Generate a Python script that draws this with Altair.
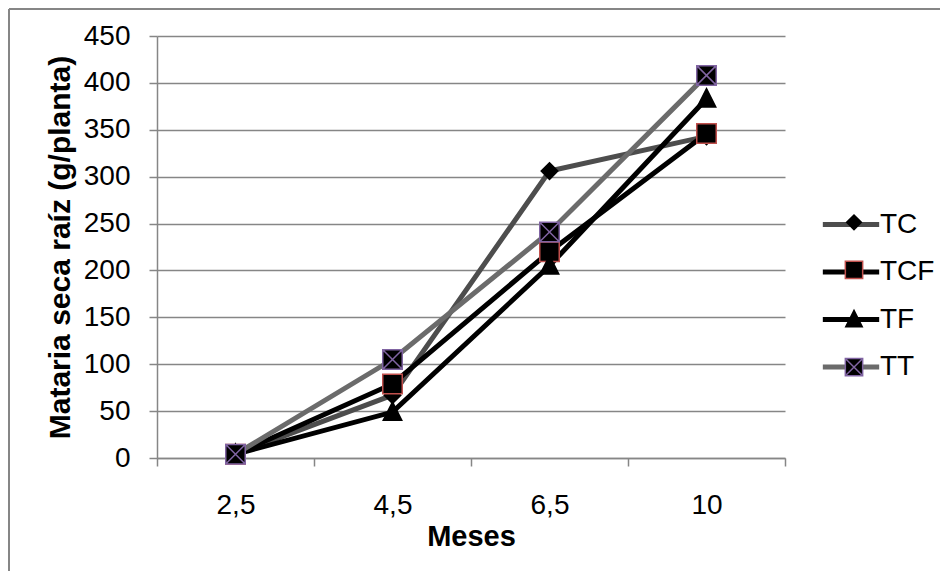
import altair as alt
import pandas as pd

# ---- data ----
months = ["2,5", "4,5", "6,5", "10"]
series = ["TC", "TCF", "TF", "TT"]
tc = [4, 67, 306, 343]
tcf = [4, 79, 220, 346]
tf = [4, 49, 205, 383]
tt = [4, 105, 241, 408]
y_ticks = [0, 50, 100, 150, 200, 250, 300, 350, 400, 450]

# ---- styles ----
line_colors = ["#4d4d4d", "#000000", "#000000", "#6b6b6b"]
marker_fill = ["#000000", "#000000", "#000000", "#000000"]
marker_stroke = ["#000000", "#c0504d", "#000000", "#8064a2"]
marker_shapes = [
    "M-0.85,0L0,-0.85L0.85,0L0,0.85Z",
    "square",
    "M0,-1.05L0.95,0.85L-0.95,0.85Z",
    "M-1,-1H1V1H-1Z M-1,-1L1,1 M1,-1L-1,1",
]
FONT = "Liberation Sans"
GRID = "#868686"

rows = []
for s, vals in zip(series, [tc, tcf, tf, tt]):
    for m, v in zip(months, vals):
        rows.append({"Mes": m, "Serie": s, "SerieM": s, "Valor": v})
df = pd.DataFrame(rows)

x_enc = alt.X(
    "Mes:N",
    sort=months,
    scale=alt.Scale(type="band", paddingInner=0, paddingOuter=0),
    axis=alt.Axis(
        title="Meses",
        labelAngle=0,
        tickBand="extent",
        tickSize=8,
        tickColor=GRID,
        tickWidth=1.5,
        domainColor=GRID,
        domainWidth=1.5,
        grid=False,
        labelFontSize=28,
        labelColor="black",
        labelPadding=25,
        titleFontSize=29,
        titleFontWeight="bold",
        titleColor="black",
        titlePadding=3,
    ),
)
y_enc = alt.Y(
    "Valor:Q",
    scale=alt.Scale(domain=[0, 450], nice=False),
    axis=alt.Axis(
        title="Mataria seca raíz (g/planta)",
        values=y_ticks,
        tickSize=8,
        tickColor=GRID,
        tickWidth=1.5,
        domainColor=GRID,
        domainWidth=1.5,
        gridColor=GRID,
        gridWidth=1.5,
        labelFontSize=28,
        labelColor="black",
        labelPadding=19,
        titleFontSize=30,
        titleFontWeight="bold",
        titleColor="black",
        titlePadding=8,
    ),
)

base = alt.Chart(df)

leg_lines = alt.Legend(
    title=None,
    orient="none",
    legendX=667,
    legendY=161.5,
    symbolType="M-1.15,0H1.15",
    symbolSize=2401,
    symbolStrokeWidth=5,
    rowPadding=6.5,
    labelFontSize=28,
    labelColor="black",
    labelOffset=2,
    padding=0,
)
lines = base.mark_line(strokeWidth=5).encode(
    x=x_enc,
    y=y_enc,
    color=alt.Color("Serie:N", sort=series,
                    scale=alt.Scale(domain=series, range=line_colors),
                    legend=leg_lines),
)

leg_marks = alt.Legend(
    title=None,
    orient="none",
    legendX=687.5,
    legendY=176.8,
    symbolSize=300,
    symbolStrokeWidth=1.5,
    rowPadding=24.6,
    labelFontSize=1,
    labelOpacity=0,
    padding=0,
)
points = base.mark_point(filled=True, size=380, opacity=1, strokeWidth=1.5).encode(
    x=x_enc,
    y=y_enc,
    shape=alt.Shape("SerieM:N", sort=series,
                    scale=alt.Scale(domain=series, range=marker_shapes),
                    legend=leg_marks),
    fill=alt.Fill("SerieM:N", sort=series,
                  scale=alt.Scale(domain=series, range=marker_fill),
                  legend=leg_marks),
    stroke=alt.Stroke("SerieM:N", sort=series,
                      scale=alt.Scale(domain=series, range=marker_stroke),
                      legend=leg_marks),
)

# decorative chart-area frame (left and top edges)
frame_df = pd.DataFrame({"k": [0]})
frame_left = alt.Chart(frame_df).mark_rule(color=GRID, strokeWidth=2).encode(
    x=alt.value(-148), y=alt.value(-27), y2=alt.value(560)
)
frame_top = alt.Chart(frame_df).mark_rule(color=GRID, strokeWidth=2).encode(
    x=alt.value(-148), x2=alt.value(800), y=alt.value(-27)
)

chart = (
    alt.layer(frame_left, frame_top, lines, points)
    .resolve_scale(shape="independent", fill="independent", stroke="independent")
    .properties(
        width=628,
        height=422,
        padding={"left": 149, "top": 28, "right": 155, "bottom": 113},
        autosize=alt.AutoSizeParams(type="none"),
        background="white",
    )
    .configure_view(stroke=None)
    .configure_axis(labelFont=FONT, titleFont=FONT)
    .configure_legend(labelFont=FONT)
)

chart.save("out.html", embed_options={"renderer": "svg", "actions": False})
